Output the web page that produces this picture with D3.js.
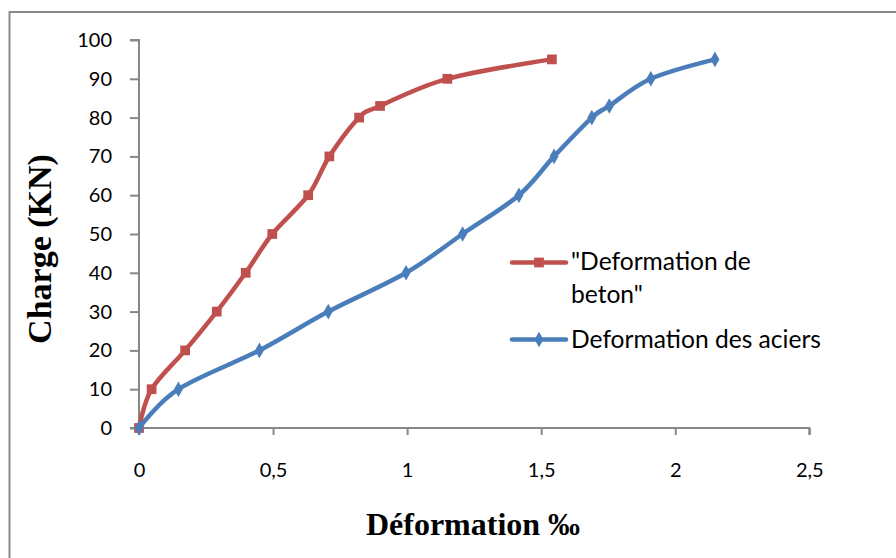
<!DOCTYPE html>
<html>
<head>
<meta charset="utf-8">
<script src="https://cdn.jsdelivr.net/npm/d3@7"></script>
<style>
  html, body { margin: 0; padding: 0; background: #fff; }
  svg { display: block; }
</style>
</head>
<body>
<svg id="chart" width="896" height="558"></svg>
<script>
// Load (kN) applied at each reading
const charges = [0, 10, 20, 30, 40, 50, 60, 70, 80, 83, 90, 95];
// Concrete strain (‰) at each load step
const defBeton = [0, 0.047, 0.172, 0.29, 0.398, 0.497, 0.631, 0.71, 0.821, 0.899, 1.15, 1.54];
// Steel strain (‰) at each load step
const defAciers = [0, 0.147, 0.449, 0.706, 0.996, 1.207, 1.417, 1.548, 1.689, 1.754, 1.909, 2.148];

const xTicks = [0, 0.5, 1, 1.5, 2, 2.5];
const yTicks = [0, 10, 20, 30, 40, 50, 60, 70, 80, 90, 100];

const seriesNames = ['"Deformation de', 'beton"', 'Deformation des aciers'];

const svg = d3.select("#chart");
const axisColor = "#878787";
const red = "#C0504D";
const blue = "#4A7EBB";

// Outer chart frame
svg.append("rect")
  .attr("x", 9.5).attr("y", 12)
  .attr("width", 1000).attr("height", 1000)
  .attr("fill", "none")
  .attr("stroke", "#8a8a8a")
  .attr("stroke-width", 2);

const x = d3.scaleLinear().domain([0, 2.5]).range([139, 809.3]);
const y = d3.scaleLinear().domain([0, 100]).range([428, 40]);

const fmt = d => String(d).replace(".", ",");

// Y axis
const gy = svg.append("g")
  .attr("transform", `translate(${x(0)},0)`)
  .call(d3.axisLeft(y).tickValues(yTicks).tickSize(9).tickPadding(18).tickFormat(fmt));
// X axis
const gx = svg.append("g")
  .attr("transform", `translate(0,${y(0)})`)
  .call(d3.axisBottom(x).tickValues(xTicks).tickSize(7).tickPadding(28).tickFormat(fmt));

[gx, gy].forEach(g => {
  g.select(".domain").attr("stroke", axisColor).attr("stroke-width", 2);
  g.selectAll(".tick line").attr("stroke", axisColor).attr("stroke-width", 2);
  g.selectAll(".tick text")
    .attr("fill", "#000")
    .style("font-family", "Lato, 'Open Sans', sans-serif")
    .style("font-size", "20px");
});
gx.select(".domain").attr("d", `M${x(0)},7V0H${x(2.5)}V7`);
gy.select(".domain").attr("d", `M-9,${y(100)}H0V${y(0)}H-9`);

// Axis titles
svg.append("text")
  .attr("x", 473).attr("y", 535)
  .attr("text-anchor", "middle")
  .style("font-family", "'Liberation Serif', 'Times New Roman', serif")
  .style("font-weight", "bold")
  .style("font-size", "32px")
  .text("Déformation ‰");

svg.append("text")
  .attr("transform", "translate(51,249) rotate(-90)")
  .attr("text-anchor", "middle")
  .style("font-family", "'Liberation Serif', 'Times New Roman', serif")
  .style("font-weight", "bold")
  .style("font-size", "34px")
  .text("Charge (KN)");

const line = d3.line()
  .x(d => x(d[0]))
  .y(d => y(d[1]))
  .curve(d3.curveCardinal.tension(0));

const beton = defBeton.map((v, i) => [v, charges[i]]);
const aciers = defAciers.map((v, i) => [v, charges[i]]);

const sq = d3.symbol().type(d3.symbolSquare).size(95);
const dia = d3.symbol().type(d3.symbolDiamond).size(70);

function drawSeries(data, color, sym) {
  svg.append("path")
    .datum(data)
    .attr("d", line)
    .attr("fill", "none")
    .attr("stroke", color)
    .attr("stroke-width", 4.5)
    .attr("stroke-linejoin", "round")
    .attr("stroke-linecap", "round");
  svg.append("g").selectAll("path")
    .data(data)
    .join("path")
    .attr("transform", d => `translate(${x(d[0])},${y(d[1])})`)
    .attr("d", sym)
    .attr("fill", color);
}

drawSeries(beton, red, sq);
drawSeries(aciers, blue, dia);

// Legend
const legendFont = "Lato, 'Open Sans', sans-serif";
const lg = svg.append("g");
function legendEntry(cy, color, sym) {
  lg.append("line")
    .attr("x1", 512).attr("x2", 566)
    .attr("y1", cy).attr("y2", cy)
    .attr("stroke", color).attr("stroke-width", 4.5)
    .attr("stroke-linecap", "round");
  lg.append("path")
    .attr("transform", `translate(539,${cy})`)
    .attr("d", sym)
    .attr("fill", color);
}
legendEntry(262.5, red, sq);
legendEntry(339.5, blue, dia);

const legendText = [[seriesNames[0], 270], [seriesNames[1], 303], [seriesNames[2], 348]];
lg.selectAll("text.leg")
  .data(legendText)
  .join("text")
  .attr("class", "leg")
  .attr("x", 571)
  .attr("y", d => d[1])
  .style("font-family", legendFont)
  .style("font-size", "24.6px")
  .attr("fill", "#000")
  .text(d => d[0]);
</script>
</body>
</html>
